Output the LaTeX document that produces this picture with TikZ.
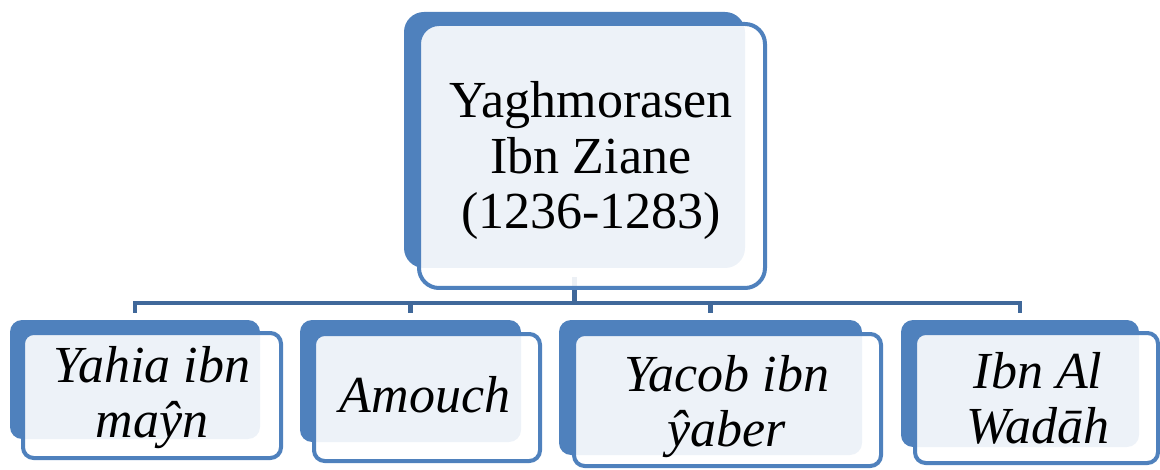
\documentclass[tikz,border=0pt]{standalone}
\usepackage{fontspec}
\setmainfont{Liberation Serif}
\usetikzlibrary{backgrounds}
\definecolor{accent}{RGB}{79,129,189}
\definecolor{connc}{RGB}{64,104,154}
\tikzset{
  back/.style={draw=none, fill=accent, inner sep=0pt},
  front/.style={draw=accent, line width=3pt, fill=white, fill opacity=0.9, text opacity=1, inner sep=0pt},
  lbl/.style={align=center, inner sep=0pt, font=\fontsize{39}{41.6}\selectfont},
  clbl/.style={lbl, font=\fontsize{39}{41.2}\selectfont\itshape},
  conn/.style={draw=connc, line width=3.6pt},
}
\begin{document}
\begin{tikzpicture}[x=0.75pt, y=-0.75pt]
\useasboundingbox (0,0) rectangle (1160,470);
% top
\node[back, minimum width=255.75pt, minimum height=192pt, rounded corners=15pt] (t) at (574.5,140) {};
\node[front, minimum width=259.5pt, minimum height=198pt, rounded corners=15pt] (tf) at (592,156) {};
\node[lbl] (tt) at (591,160.5) {Yaghmorasen\\Ibn Ziane\\(1236-1283)};
% child 1
\node[back, minimum width=187.5pt, minimum height=89.25pt, rounded corners=9pt] (c1) at (135,379.5) {};
\node[front, minimum width=193.5pt, minimum height=93.75pt, rounded corners=8pt] (c1f) at (152,395.5) {};
\node[clbl] (c1t) at (152,398) {Yahia ibn\\maŷn};
% child 2
\node[back, minimum width=165.75pt, minimum height=91.5pt, rounded corners=9pt] (c2) at (410.5,381) {};
\node[front, minimum width=169.5pt, minimum height=95.25pt, rounded corners=8pt] (c2f) at (427,397.5) {};
\node[clbl] (c2t) at (425,395) {Amouch};
% child 3
\node[back, minimum width=227.25pt, minimum height=101.25pt, rounded corners=9pt] (c3) at (710.5,387.5) {};
\node[front, minimum width=230.25pt, minimum height=99pt, rounded corners=8pt] (c3f) at (727.5,400) {};
\node[clbl] (c3t) at (727,407) {Yacob ibn\\ŷaber};
% child 4
\node[back, minimum width=178.5pt, minimum height=95.25pt, rounded corners=9pt] (c4) at (1020,383.5) {};
\node[front, minimum width=182.25pt, minimum height=97.5pt, rounded corners=8pt] (c4f) at (1036.5,398) {};
\node[clbl] (c4t) at (1038,398) {Ibn Al\\Wadāh};
% connectors
\coordinate (bus) at (574.5,303);
\begin{scope}[on background layer]
\draw[conn] ([yshift=-6.75pt]t.south) -- (t.south |- bus) -| ([yshift=5.25pt]c1.north);
\draw[conn] (t.south |- bus) -| ([yshift=5.25pt]c2.north);
\draw[conn] (t.south |- bus) -| ([yshift=5.25pt]c3.north);
\draw[conn] (t.south |- bus) -| ([yshift=5.25pt]c4.north);
\end{scope}
\end{tikzpicture}
\end{document}
